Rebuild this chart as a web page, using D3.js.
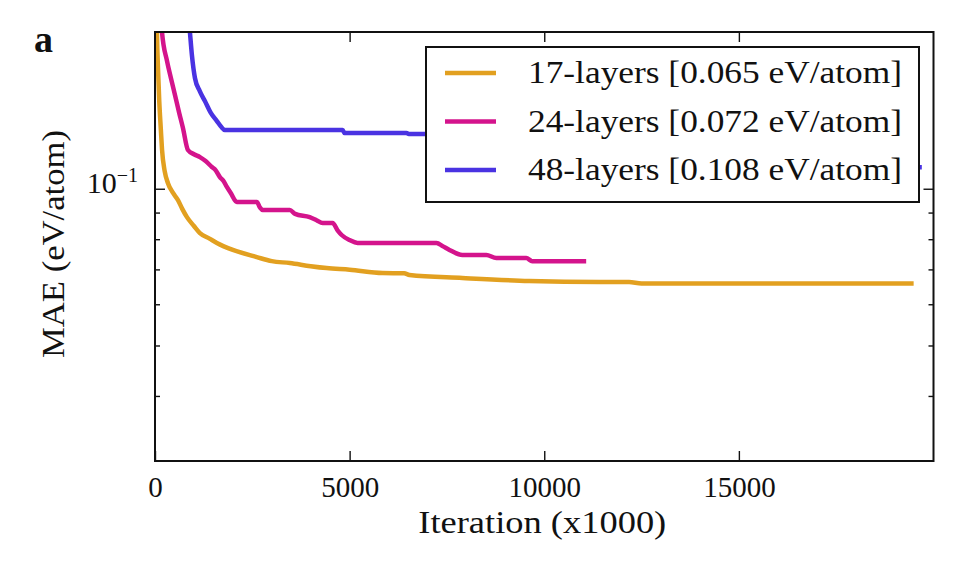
<!DOCTYPE html>
<html>
<head>
<meta charset="utf-8">
<script src="https://cdn.jsdelivr.net/npm/d3@7"></script>
<style>
body{margin:0;background:#fff;}
text{font-family:"Liberation Serif","Times New Roman",serif;fill:#111;}
</style>
</head>
<body>
<div id="chart"></div>
<script>
// series: iteration (x1000) and MAE (eV/atom)
const labels = ["17-layers [0.065 eV/atom]", "24-layers [0.072 eV/atom]", "48-layers [0.108 eV/atom]"];

const it17  = [30, 50, 80, 110, 150, 180, 250, 333, 450, 590, 700, 821, 1000, 1154, 1400, 1590, 2000, 2615, 3000, 3462, 4000, 4410, 5000, 5846, 6400, 6538, 7897, 9615, 11410, 12179, 12500, 19490];
const mae17 = [0.26, 0.2, 0.168, 0.147, 0.13, 0.119, 0.108, 0.1025, 0.0985, 0.0951, 0.0915, 0.0882, 0.0848, 0.0822, 0.0802, 0.0787, 0.0763, 0.0739, 0.0726, 0.0720, 0.0710, 0.0704, 0.0699, 0.0689, 0.0688, 0.0683, 0.0674, 0.0665, 0.0662, 0.0662, 0.0658, 0.0658];

const it24  = [150, 180, 308, 410, 513, 620, 718, 846, 1000, 1154, 1300, 1462, 1560, 1667, 1760, 1846, 1950, 2103, 2615, 2700, 2769, 3462, 3600, 3974, 4150, 4308, 4564, 4700, 4795, 5000, 5205, 7231, 7400, 7564, 7897, 8513, 8769, 9538, 9692, 11077];
const mae24 = [0.23, 0.2, 0.176, 0.163, 0.1514, 0.14, 0.1308, 0.1187, 0.1165, 0.1150, 0.113, 0.1101, 0.1085, 0.1053, 0.1035, 0.1008, 0.098, 0.0943, 0.0943, 0.092, 0.0910, 0.0910, 0.0895, 0.0882, 0.087, 0.0859, 0.0859, 0.083, 0.0815, 0.0797, 0.0787, 0.0787, 0.0775, 0.0763, 0.0746, 0.0746, 0.0736, 0.0736, 0.0726, 0.0726];

// the part under the legend can't be seen, only its end right of the box
const it48  = [850, 897, 950, 1026, 1150, 1282, 1430, 1590, 1700, 1795, 4821, 4870, 6462, 6520, 9000, 9100, 12000, 12100, 15000, 15100, 17500, 17600, 19700];
const mae48 = [0.22, 0.2, 0.18, 0.1632, 0.154, 0.1474, 0.140, 0.1349, 0.1315, 0.1296, 0.1296, 0.1279, 0.1279, 0.1274, 0.1274, 0.122, 0.122, 0.117, 0.117, 0.113, 0.113, 0.1105, 0.110];

const xTicks = [0, 5000, 10000, 15000];
const xTopTicks = [5000, 10000, 15000];
const yMajor = [0.1];
const yMinor = [0.04, 0.05, 0.06, 0.07, 0.08, 0.09];

const W = 970, H = 561;
const m = {l:155, t:32, r:36.5, b:100};
const colors = ["#e2a020", "#d4148c", "#4a33e2"];

const svg = d3.select("#chart").append("svg").attr("width",W).attr("height",H);

const x = d3.scaleLinear().domain([0,20000]).range([m.l, W-m.r]);
const y = d3.scaleLog().domain([0.03,0.2]).range([H-m.b, m.t]);

svg.append("clipPath").attr("id","plotclip").append("rect")
  .attr("x",m.l).attr("y",m.t).attr("width",W-m.l-m.r).attr("height",H-m.t-m.b);

var series = [[it17,mae17],[it24,mae24],[it48,mae48]];
var line = d3.line().x(d=>x(d[0])).y(d=>y(d[1])).curve(d3.curveMonotoneX);

series.forEach((s,i)=>{
  var pts = s[0].map((v,k)=>[v, s[1][k]]);
  svg.append("path").datum(pts)
    .attr("clip-path","url(#plotclip)")
    .attr("fill","none")
    .attr("stroke",colors[i])
    .attr("stroke-width",4.5)
    .attr("stroke-linejoin","round")
    .attr("d",line);
});

// ticks point inward on all four sides
var bottom = svg.append("g").attr("transform","translate(0,"+(H-m.b)+")")
  .call(d3.axisBottom(x).tickValues(xTicks).tickSizeInner(-10).tickSizeOuter(0).tickPadding(36).tickFormat(d3.format("d")));
var top_ = svg.append("g").attr("transform","translate(0,"+m.t+")")
  .call(d3.axisTop(x).tickValues(xTopTicks).tickSizeInner(-10).tickSizeOuter(0).tickFormat(""));
var left = svg.append("g").attr("transform","translate("+m.l+",0)")
  .call(d3.axisLeft(y).tickValues(yMajor).tickSizeInner(-10).tickSizeOuter(0).tickFormat(""));
var leftMinor = svg.append("g").attr("transform","translate("+m.l+",0)")
  .call(d3.axisLeft(y).tickValues(yMinor).tickSizeInner(-5).tickSizeOuter(0).tickFormat(""));
var right = svg.append("g").attr("transform","translate("+(W-m.r)+",0)")
  .call(d3.axisRight(y).tickValues(yMajor).tickSizeInner(-10).tickSizeOuter(0).tickFormat(""));
var rightMinor = svg.append("g").attr("transform","translate("+(W-m.r)+",0)")
  .call(d3.axisRight(y).tickValues(yMinor).tickSizeInner(-5).tickSizeOuter(0).tickFormat(""));

[bottom,top_,left,leftMinor,right,rightMinor].forEach(g=>{
  g.select(".domain").remove();
  g.selectAll(".tick line").attr("stroke","#111").attr("stroke-width",1.4);
});
bottom.selectAll(".tick text")
  .attr("font-size",29).attr("fill","#111").attr("dy",0);

// 10^-1 label
var yl = svg.append("text")
  .attr("x",m.l-17).attr("y",y(0.1)+4)
  .attr("text-anchor","end").attr("font-size",30);
yl.append("tspan").text("10");
yl.append("tspan").attr("font-size",20).attr("dy",-11).text("\u22121");

// frame
svg.append("rect").attr("x",m.l).attr("y",m.t)
  .attr("width",W-m.l-m.r).attr("height",H-m.t-m.b)
  .attr("fill","none").attr("stroke","#111").attr("stroke-width",2);

// axis titles
svg.append("text").attr("x",(m.l+W-m.r)/2-2).attr("y",533)
  .attr("text-anchor","middle").attr("font-size",31)
  .attr("textLength",248).attr("lengthAdjust","spacingAndGlyphs")
  .text("Iteration (x1000)");
svg.append("text").attr("transform","translate(64,244) rotate(-90)")
  .attr("text-anchor","middle").attr("font-size",31)
  .attr("textLength",228).attr("lengthAdjust","spacingAndGlyphs")
  .text("MAE (eV/atom)");

svg.append("text").attr("x",34).attr("y",52)
  .attr("font-size",38).attr("font-weight","bold").text("a");

// legend
var lg = svg.append("g");
lg.append("rect").attr("x",426).attr("y",47).attr("width",493).attr("height",155)
  .attr("fill","#fff").attr("stroke","#111").attr("stroke-width",2);
labels.forEach((t,i)=>{
  var cy = 73 + i*48.5;
  lg.append("line").attr("x1",445).attr("x2",496).attr("y1",cy).attr("y2",cy)
    .attr("stroke",colors[i]).attr("stroke-width",4.5);
  lg.append("text").attr("x",528).attr("y",cy+10)
    .attr("font-size",31)
    .attr("textLength",374).attr("lengthAdjust","spacingAndGlyphs")
    .text(t);
});
</script>
</body>
</html>
